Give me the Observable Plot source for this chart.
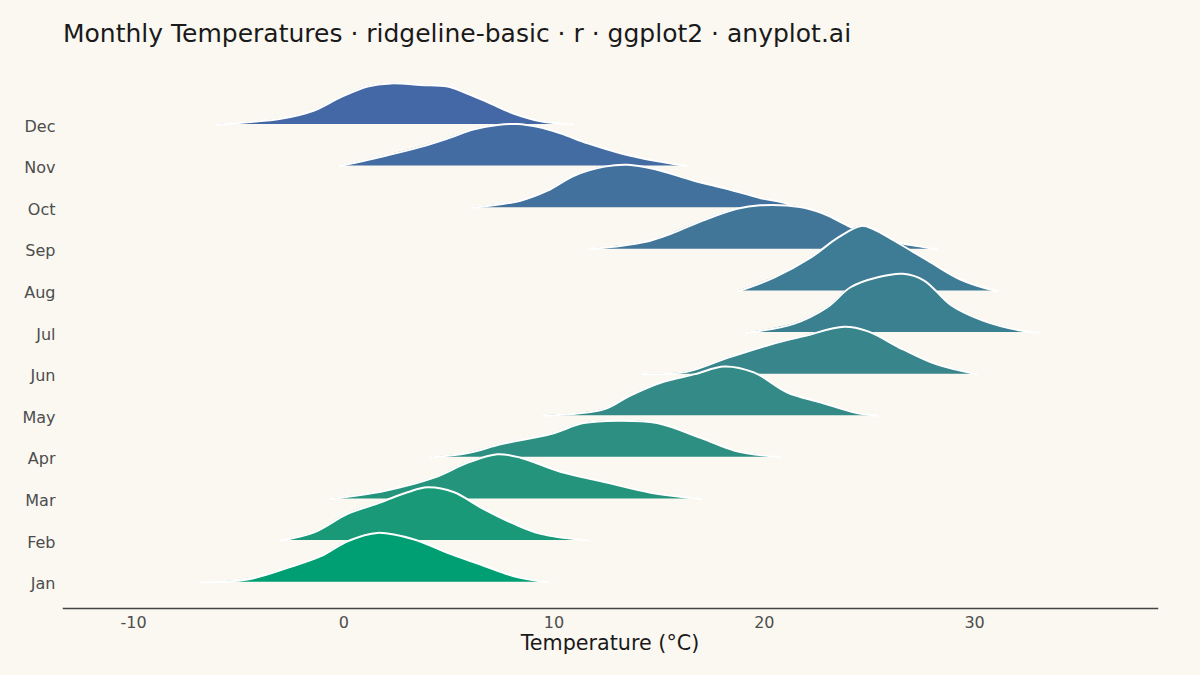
<!DOCTYPE html>
<html><head><meta charset="utf-8">
<script src="https://cdn.jsdelivr.net/npm/d3@7"></script>
<script src="https://cdn.jsdelivr.net/npm/@observablehq/plot@0.6"></script>
<style>
html,body{margin:0;padding:0;background:#FAF8F1;}
body{width:1200px;height:675px;position:relative;overflow:hidden;font-family:"DejaVu Sans",sans-serif;}
#title{position:absolute;left:63px;top:18px;font-size:25px;line-height:32px;color:#1a1a1a;white-space:nowrap;}
#chart{position:absolute;left:0;top:60px;}
#xlabel{position:absolute;left:63px;width:1094px;top:631px;text-align:center;font-size:20.7px;line-height:24px;color:#1a1a1a;}
</style></head>
<body>
<div id="title">Monthly Temperatures · ridgeline-basic · r · ggplot2 · anyplot.ai</div>
<div id="chart"></div>
<div id="xlabel">Temperature (°C)</div>
<script>
const months = ["Jan","Feb","Mar","Apr","May","Jun","Jul","Aug","Sep","Oct","Nov","Dec"];
const xTicks = [-10, 0, 10, 20, 30];

const janTemp = [-6.8,-4.58,-2.68,-1.09,0.18,1.6,3.35,4.93,6.5,8.1,9.69];
const janDens = [0,0.0052,0.0275,0.05,0.0788,0.0948,0.0821,0.0563,0.034,0.0115,0];
const febTemp = [-3.0,-1.41,0.18,1.76,3.03,3.98,5.25,6.5,8.1,9.37,11.6];
const febDens = [0,0.016,0.0513,0.0737,0.0929,0.1025,0.0929,0.064,0.0321,0.0129,0];
const marTemp = [-0.62,1.92,4.3,5.9,7.3,8.4,10.3,12.2,14.6,17.0];
const marDens = [0,0.0154,0.041,0.0698,0.086,0.0794,0.0525,0.0346,0.0121,0];
const aprTemp = [4.14,5.9,7.5,9.84,11.4,13.0,14.9,17.0,18.6,20.8];
const aprDens = [0,0.0083,0.0256,0.0448,0.066,0.0706,0.066,0.037,0.0129,0];
const mayTemp = [9.5,12.4,13.6,15.1,16.7,18.1,19.5,21.1,22.7,24.3,25.4];
const mayDens = [0,0.0129,0.0385,0.064,0.08,0.0948,0.0833,0.0448,0.0256,0.0063,0];
const junTemp = [14.2,16.3,18.25,20.3,21.9,23.8,24.9,26.6,28.2,30.1];
const junDens = [0,0.0044,0.0313,0.0571,0.0731,0.091,0.0827,0.0475,0.0187,0];
const julTemp = [19.2,21.4,23.0,24.1,25.4,26.6,27.6,28.9,30.4,32.2,33.1];
const julDens = [0,0.0167,0.0487,0.0871,0.1063,0.1129,0.10,0.052,0.023,0.0038,0];
const augTemp = [18.8,20.46,22.2,23.5,24.6,25.2,26.2,27.8,29.3,30.9,31.1];
const augDens = [0,0.0256,0.064,0.1025,0.125,0.1187,0.096,0.0577,0.0225,0.0013,0];
const sepTemp = [11.7,14.3,15.55,17.1,18.7,19.8,21.7,22.8,24.1,25.0,26.5,27.5,28.2];
const sepDens = [0,0.014,0.03,0.0558,0.078,0.0846,0.0813,0.0687,0.043,0.029,0.0115,0.0048,0];
const octTemp = [6.1,8.4,9.69,10.95,12.4,13.5,14.76,16.66,18.25,19.8,21.1,21.25];
const octDens = [0,0.0135,0.0327,0.0615,0.079,0.0827,0.0744,0.052,0.036,0.0187,0.0071,0];
const novTemp = [-0.2,2.08,3.66,4.93,6.2,7.31,8.26,9.21,10.3,11.6,13.2,14.8,16.3];
const novDens = [0,0.021,0.037,0.053,0.0706,0.079,0.081,0.0756,0.063,0.0437,0.0244,0.0102,0];
const decTemp = [-6.0,-4.58,-3.0,-1.41,-0.14,1.13,2.23,3.66,4.93,5.72,6.83,8.1,9.37,10.9];
const decDens = [0,0.0044,0.011,0.027,0.0525,0.073,0.079,0.076,0.073,0.062,0.043,0.0206,0.0063,0];

const temps = [janTemp,febTemp,marTemp,aprTemp,mayTemp,junTemp,julTemp,augTemp,sepTemp,octTemp,novTemp,decTemp];
const dens  = [janDens,febDens,marDens,aprDens,mayDens,junDens,julDens,augDens,sepDens,octDens,novDens,decDens];

const rows = months.map((m, i) => temps[i].map((t, j) => ({month: m, i, temp: t, dens: dens[i][j]})));
const scaleK = 12.5; // ridge height in row units per density unit
const colorOf = i => d3.interpolateLab("#009E73", "#4467A6")(i / 11);
const curve = "catmull-rom";

const marks = [];
for (let i = 11; i >= 0; i--) {
  marks.push(Plot.areaY(rows[i], {x: "temp", y1: d => d.i, y2: d => d.i + d.dens * scaleK, fill: colorOf(i), curve}));
  marks.push(Plot.lineY(rows[i], {x: "temp", y: d => d.i + d.dens * scaleK, stroke: "white", strokeWidth: 2, curve}));
}
marks.push(Plot.frame({anchor: "bottom", stroke: "#444", strokeWidth: 1.5}));
marks.push(Plot.axisX({ticks: xTicks, tickSize: 0, tickPadding: 8, fontSize: 16, fill: "#4d4d4d", label: null, tickFormat: d => String(d)}));
marks.push(Plot.axisY({ticks: d3.range(12), tickFormat: i => months[i], tickSize: 0, tickPadding: 8, dy: 2, fontSize: 16, fill: "#4d4d4d", label: null}));

const chart = Plot.plot({
  width: 1200,
  height: 576,
  marginLeft: 63,
  marginRight: 43,
  marginTop: 0,
  marginBottom: 28,
  style: {background: "transparent", fontFamily: "DejaVu Sans"},
  x: {domain: [-13.33, 38.7]},
  y: {domain: [0, 11], range: [521.7, 64]},
  marks
});
document.getElementById("chart").appendChild(chart);
</script>
</body></html>
